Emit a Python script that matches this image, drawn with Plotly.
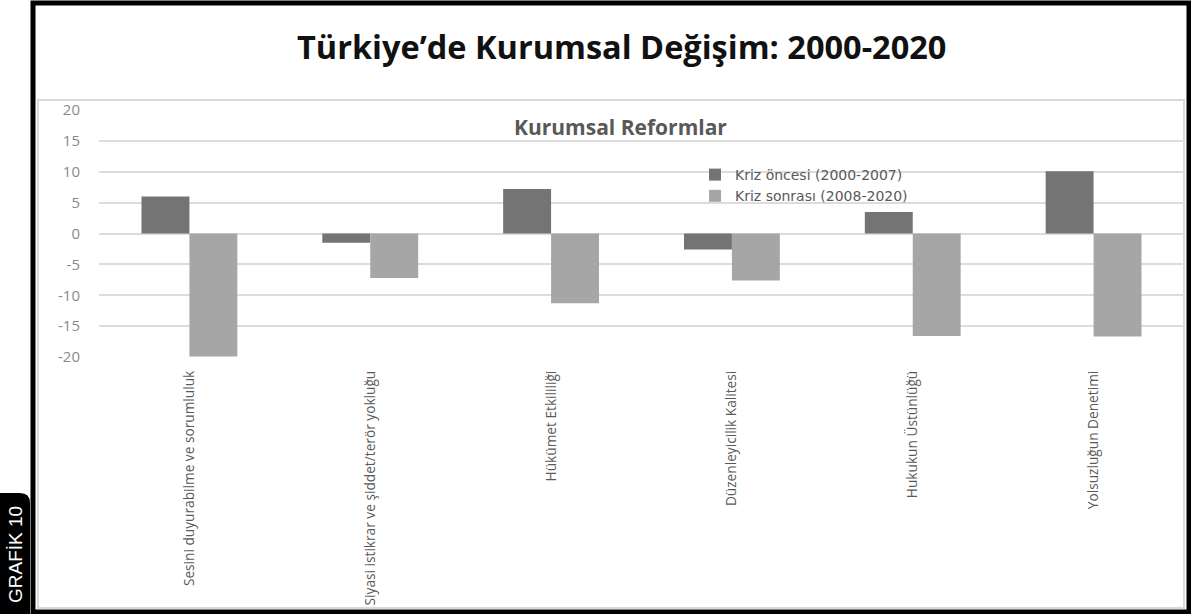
import plotly.graph_objects as go

# Worldwide Governance Indicators – change in Türkiye's scores
categories = [
    "Sesini duyurabilme ve sorumluluk",
    "Siyasi istikrar ve şiddet/terör yokluğu",
    "Hükümet Etkililiği",
    "Düzenleyicilik Kalitesi",
    "Hukukun Üstünlüğü",
    "Yolsuzluğun Denetimi",
]
kriz_oncesi = [6.0, -1.5, 7.2, -2.6, 3.5, 10.1]     # 2000-2007
kriz_sonrasi = [-19.9, -7.2, -11.3, -7.6, -16.6, -16.7]  # 2008-2020

series_names = ["Kriz öncesi (2000-2007)", "Kriz sonrası (2008-2020)"]
y_ticks = [-20, -15, -10, -5, 0, 5, 10, 15, 20]
y_tick_text = [str(v) for v in y_ticks]  # plain hyphen for negatives

W, H = 1191, 614
M_L, M_R, M_T, M_B = 99, 7, 110, 257
PW, PH = W - M_L - M_R, H - M_T - M_B


def px(x):
    return (x - M_L) / PW


def py(y):
    return (H - M_B - y) / PH


fig = go.Figure()
fig.add_trace(go.Bar(x=categories, y=kriz_oncesi, name=series_names[0],
                     marker=dict(color="#747474", line=dict(width=0))))
fig.add_trace(go.Bar(x=categories, y=kriz_sonrasi, name=series_names[1],
                     marker=dict(color="#a6a6a6", line=dict(width=0))))

# frames: outer black box, inner light chart box, side tab
tab_path = (
    f"M {px(0)},{py(614)} L {px(0)},{py(493)} "
    f"L {px(20)},{py(493)} Q {px(30)},{py(493)} {px(30)},{py(503)} "
    f"L {px(30)},{py(614)} Z"
)
shapes = [
    dict(type="rect", xref="paper", yref="paper",
         x0=px(38), x1=px(1184), y0=py(100), y1=py(608),
         line=dict(color="#d9d9d9", width=2), layer="below"),
    dict(type="rect", xref="paper", yref="paper",
         x0=px(33), x1=px(1189), y0=py(3), y1=py(612),
         line=dict(color="#000000", width=5)),
    dict(type="path", xref="paper", yref="paper", path=tab_path,
         fillcolor="#000000", line=dict(width=0)),
]

annotations = [
    dict(text="<b>Türkiye’de Kurumsal Değişim: 2000-2020</b>",
         xref="paper", yref="paper", x=px(621), y=py(47),
         xanchor="center", yanchor="middle", showarrow=False,
         font=dict(family="Open Sans", size=32.5, color="#111111")),
    dict(text="<b>Kurumsal Reformlar</b>",
         xref="paper", yref="paper", x=px(620), y=py(127),
         xanchor="center", yanchor="middle", showarrow=False,
         font=dict(family="Open Sans", size=21, color="#595959")),
    dict(text="GRAFİK 10",
         xref="paper", yref="paper", x=px(15), y=py(555),
         xanchor="center", yanchor="middle", showarrow=False, textangle=-90,
         font=dict(family="Liberation Sans, Arial", size=19, color="#ffffff")),
]

fig.update_layout(
    width=W, height=H,
    margin=dict(l=M_L, r=M_R, t=M_T, b=M_B, pad=0),
    paper_bgcolor="#ffffff", plot_bgcolor="#ffffff",
    barmode="group", bargap=0.47, bargroupgap=0,
    font=dict(family="Open Sans", color="#595959"),
    legend=dict(x=px(695), y=py(159), xanchor="left", yanchor="top",
                bgcolor="rgba(0,0,0,0)", itemwidth=30,
                font=dict(family="DejaVu Sans", size=14, color="#595959"),
                tracegroupgap=0),
    shapes=shapes, annotations=annotations,
)
fig.update_xaxes(
    type="category", tickangle=-90, showgrid=False, ticks="",
    showline=False, ticklabelstandoff=10,
    tickfont=dict(family="Open Sans", size=13.7, color="#595959"),
)
fig.update_yaxes(
    range=[-20, 20], tickvals=y_ticks, ticktext=y_tick_text,
    showgrid=True, gridcolor="#dcdcdc",
    gridwidth=1.5, zeroline=True, zerolinecolor="#dcdcdc", zerolinewidth=1.5,
    showline=False, ticks="", ticklabelstandoff=18,
    tickfont=dict(family="Open Sans", size=15, color="#8a8a8a"),
)

fig.write_html("out.html")
